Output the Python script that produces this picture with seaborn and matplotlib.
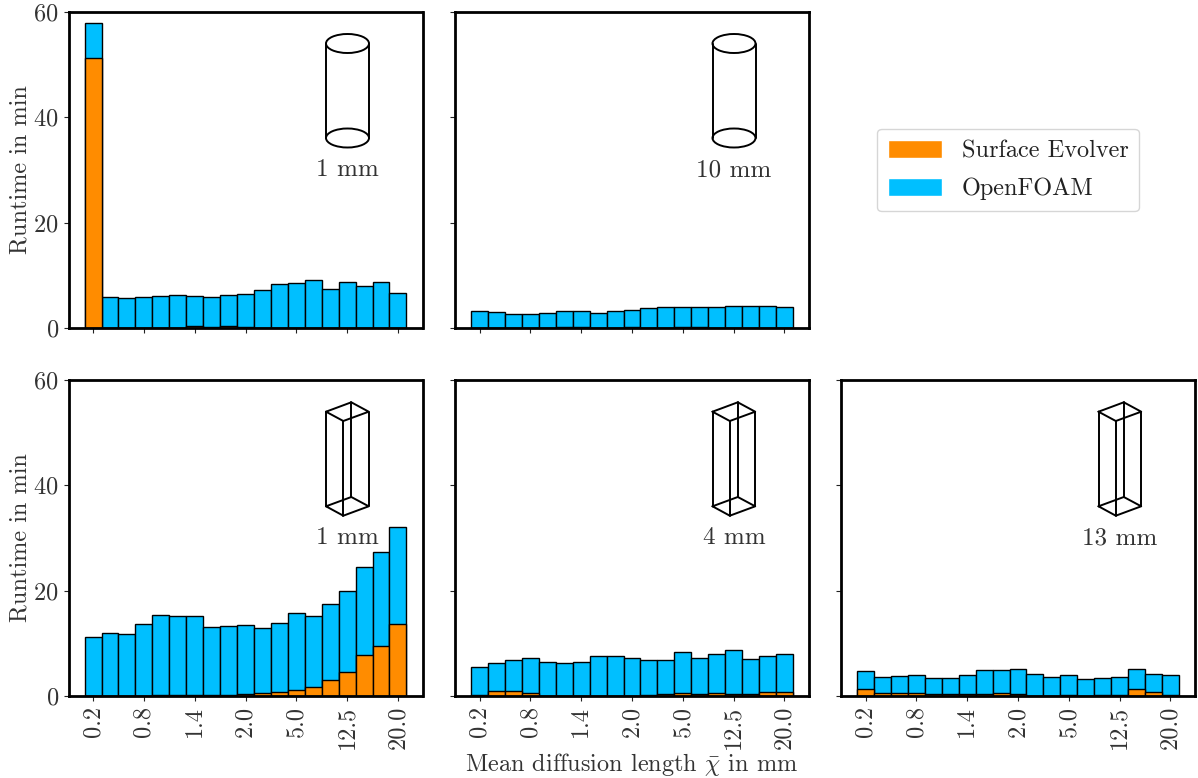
import matplotlib
matplotlib.use("Agg")
import matplotlib.pyplot as plt
from matplotlib.lines import Line2D
from matplotlib.patches import Ellipse, Patch
import pandas as pd
import seaborn as sns

lengths = ["0.2","0.4","0.6","0.8","1.0","1.2","1.4","1.6","1.8","2.0","3.0","4.0","5.0","7.5","10.0","12.5","15.0","17.5","20.0"]
tick_labels = ["0.2","0.8","1.4","2.0","5.0","12.5","20.0"]

cyl1_total = [58.0,5.9,5.65,5.95,6.15,6.3,6.1,5.95,6.3,6.4,7.3,8.3,8.55,9.15,7.35,8.75,7.95,8.7,6.7]
cyl1_se = [51.2,0.05,0.05,0.05,0.05,0.05,0.35,0.2,0.3,0.25,0.05,0.05,0.05,0.05,0.05,0.05,0.05,0.05,0.05]
cyl10_total = [3.2,3.0,2.6,2.6,2.9,3.2,3.2,2.9,3.25,3.45,3.75,3.95,3.95,4.0,3.95,4.15,4.15,4.15,4.0]
cyl10_se = [0.05,0.05,0.05,0.05,0.05,0.15,0.15,0.05,0.05,0.2,0.05,0.05,0.1,0.1,0.05,0.05,0.05,0.05,0.05]
box1_total = [11.2,12.0,11.8,13.6,15.3,15.2,15.1,13.05,13.25,13.5,12.85,13.9,15.7,15.1,17.5,20.0,24.5,27.3,32.1]
box1_se = [0.05,0.05,0.05,0.05,0.1,0.1,0.1,0.15,0.2,0.4,0.5,0.7,1.1,1.8,3.1,4.5,7.8,9.4,13.6]
box4_total = [5.5,6.3,6.85,7.2,6.5,6.35,6.55,7.55,7.55,7.3,6.8,6.75,8.3,7.2,8.0,8.75,7.05,7.55,7.9]
box4_se = [0.1,0.9,0.9,0.5,0.05,0.05,0.05,0.05,0.05,0.05,0.1,0.45,0.55,0.3,0.55,0.35,0.45,0.85,0.8]
box13_total = [4.8,3.6,3.85,4.0,3.35,3.35,4.0,4.9,4.9,5.15,4.15,3.55,3.95,3.3,3.5,3.7,5.15,4.25,4.0]
box13_se = [1.25,0.55,0.5,0.5,0.4,0.4,0.35,0.4,0.5,0.3,0.05,0.05,0.2,0.05,0.1,0.15,1.4,0.75,0.15]

ORANGE = "#FF8C00"
BLUE = "#00BFFF"

sns.set_style("white")
plt.rcParams.update({
    "font.family": ["cmr10", "DejaVu Sans"],
    "mathtext.fontset": "cm",
    "axes.formatter.use_mathtext": True,
    "axes.unicode_minus": False,
    "font.size": 17.5,
    "text.color": "#222222",
})

W, H = 1198, 778
fig = plt.figure(figsize=(W / 100, H / 100), dpi=100)
LEFTS = [68.5, 455, 841]
TOPS = [12, 380]
AW, AH = 354, 316


def make_axes(col, row):
    return fig.add_axes([LEFTS[col] / W, 1 - (TOPS[row] + AH) / H, AW / W, AH / H])


def cylinder(ax):
    t = ax.transAxes
    cx, w, e = 279 / AW, 43 / AW, 19 / AH
    for y in (31.5, 126):
        ax.add_patch(Ellipse((cx, 1 - y / AH), w, e, transform=t, fill=False, ec="black", lw=1.4, zorder=5))
    for x in (cx - w / 2, cx + w / 2):
        ax.add_line(Line2D([x, x], [1 - 31.5 / AH, 1 - 126 / AH], transform=t, color="black", lw=1.4, zorder=5))


def cuboid(ax):
    xs = {"l": 257.5, "f": 274.8, "b": 282.8, "r": 300.2}
    top = {"l": 31.7, "f": 41.0, "b": 22.3, "r": 31.7}
    bot = {"l": 126.3, "f": 135.7, "b": 117.0, "r": 126.3}
    order = ["l", "f", "r", "b", "l"]
    for lev in (top, bot):
        ax.add_line(Line2D([xs[k] / AW for k in order], [1 - lev[k] / AH for k in order],
                           transform=ax.transAxes, color="black", lw=1.4, zorder=5))
    for k in xs:
        ax.add_line(Line2D([xs[k] / AW] * 2, [1 - top[k] / AH, 1 - bot[k] / AH],
                           transform=ax.transAxes, color="black", lw=1.4, zorder=5))


panels = [
    (0, 0, cyl1_total, cyl1_se, "1 mm", cylinder),
    (1, 0, cyl10_total, cyl10_se, "10 mm", cylinder),
    (0, 1, box1_total, box1_se, "1 mm", cuboid),
    (1, 1, box4_total, box4_se, "4 mm", cuboid),
    (2, 1, box13_total, box13_se, "13 mm", cuboid),
]

for col, row, total, se, label, icon in panels:
    ax = make_axes(col, row)
    df = pd.DataFrame({"length": lengths, "total": total, "se": se})
    sns.barplot(data=df, x="length", y="total", color=BLUE, saturation=1, width=1,
                edgecolor="black", linewidth=1.0, ax=ax)
    sns.barplot(data=df, x="length", y="se", color=ORANGE, saturation=1, width=1,
                edgecolor="black", linewidth=1.0, ax=ax)
    ax.set_xlim(-1.45, 19.45)
    ax.set_ylim(0, 60)
    ax.set_yticks([0, 20, 40, 60])
    ax.set_xticks(range(0, 19, 3))
    ax.set_xticklabels(tick_labels, rotation=90)
    ax.tick_params(axis="both", which="major", bottom=True, left=True, length=3.5, width=0.8,
                   labelsize=17.5, color="#222222", labelcolor="#333333", pad=3.5)
    ax.tick_params(labelbottom=row == 1, labelleft=col == 0)
    for s in ax.spines.values():
        s.set_linewidth(2.0)
        s.set_color("black")
    ax.set_xlabel("")
    ax.set_ylabel("Runtime in min" if col == 0 else "", fontsize=17.5, color="#333333")
    ax.yaxis.set_label_coords(-0.104, 0.5)
    icon(ax)
    ax.text(279 / AW, 1 - 158 / AH, label, transform=ax.transAxes, ha="center", va="center",
            fontsize=18, color="#333333")
    if col == 1 and row == 1:
        ax.set_xlabel(r"Mean diffusion length $\bar{\chi}$ in mm", fontsize=17.5, color="#333333")
        ax.xaxis.set_label_coords(0.5, -0.174)

handles = [Patch(facecolor=ORANGE, label="Surface Evolver"), Patch(facecolor=BLUE, label="OpenFOAM")]
fig.legend(handles=handles, loc="center", bbox_to_anchor=(1008 / W, 1 - 170 / H), fontsize=17.5,
           handlelength=2.22, handleheight=0.82, handletextpad=0.82, labelspacing=0.62,
           frameon=True, framealpha=0.8, edgecolor="#cccccc", borderpad=0.45)

fig.savefig("out.png", dpi=100)
